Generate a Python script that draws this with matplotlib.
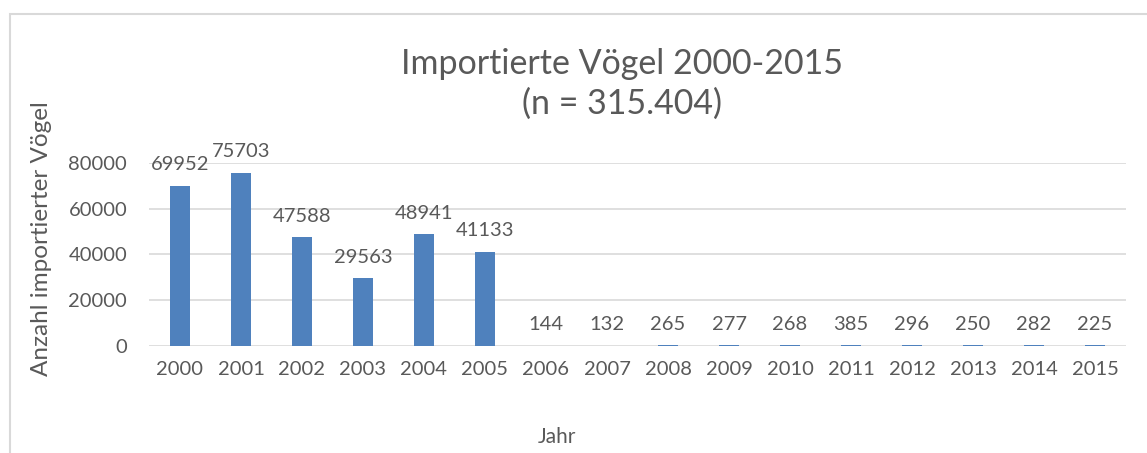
import matplotlib.pyplot as plt
from matplotlib.patches import Rectangle

years = [str(y) for y in range(2000, 2016)]
birds = [69952, 75703, 47588, 29563, 48941, 41133, 144, 132, 265, 277,
         268, 385, 296, 250, 282, 225]

TEXT = "#595959"
GRID = "#D9D9D9"
BAR = "#4F81BD"

plt.rcParams["font.family"] = ["Lato", "DejaVu Sans"]

fig = plt.figure(figsize=(11.47, 4.53), dpi=100)
ax = fig.add_axes([0.1303, 0.2362, 0.851, 0.404])

x = list(range(len(years)))
ax.bar(x, birds, width=0.33, color=BAR, zorder=3)
for xi, v in zip(x, birds):
    ax.annotate(str(v), (xi, v), xytext=(0, 9), textcoords="offset points",
                ha="center", va="bottom", fontsize=14.5, color=TEXT)

ax.set_xlim(-0.5, len(years) - 0.5)
ax.set_ylim(0, 80000)
ax.set_yticks(range(0, 80001, 20000))
ax.set_xticks(x)
ax.set_xticklabels(years)
ax.tick_params(length=0, labelsize=14.5, labelcolor=TEXT, pad=11)
ax.tick_params(axis="y", pad=16)
ax.grid(axis="y", color=GRID, linewidth=1.2, zorder=0)
for s in ax.spines.values():
    s.set_visible(False)
ax.set_ylabel("Anzahl importierter Vögel", fontsize=17.5, color=TEXT,
              labelpad=12, y=0.585)

fig.text(0.542, 0.895, "Importierte Vögel 2000-2015\n(n = 315.404)",
         ha="center", va="top", fontsize=24.5, color=TEXT, linespacing=1.3)
fig.text(0.486, 0.035, "Jahr", ha="center", va="center", fontsize=15, color=TEXT)

fig.patches.append(Rectangle((10 / 1147, -0.1), 1.2, 1.1 - 14 / 453,
                             transform=fig.transFigure, fill=False,
                             edgecolor=GRID, linewidth=1.5))

fig.savefig("out.png", dpi=100)
